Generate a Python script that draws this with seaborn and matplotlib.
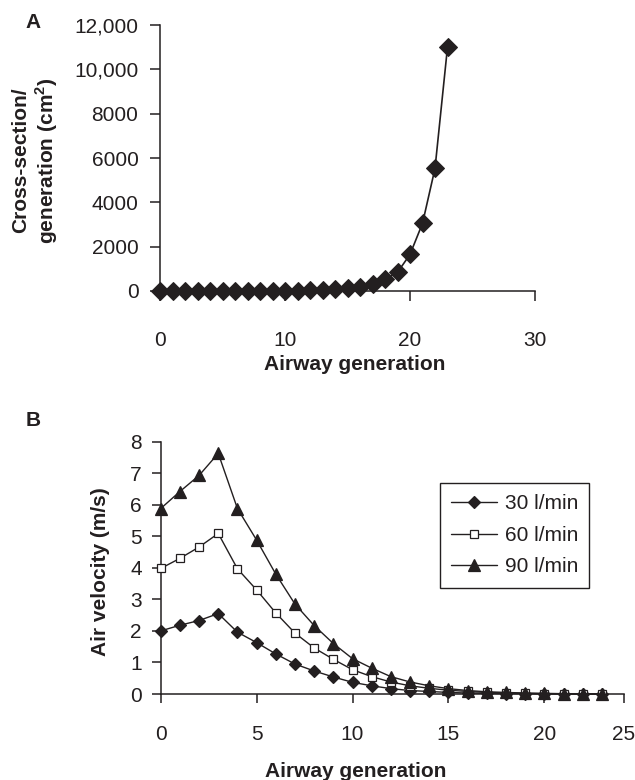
import matplotlib
matplotlib.use('Agg')
import matplotlib.pyplot as plt
import numpy as np
import pandas as pd
import seaborn as sns

# Panel A: cross-section per airway generation (cm2)
gen_a = list(range(24))
cross_section = [2.5, 2.3, 2.1, 2.0, 2.5, 3.1, 4.0, 5.1, 7.0, 9.6, 13, 20, 29, 45,
                 69, 113, 190, 330, 530, 840, 1650, 3050, 5530, 11000]
a_yticks = [0, 2000, 4000, 6000, 8000, 10000, 12000]
a_yticklabels = ['0', '2000', '4000', '6000', '8000', '10,000', '12,000']
a_xticks = [0, 10, 20, 30]

# Panel B: air velocity (m/s) per generation for three flow rates
gen_b = list(range(24))
v30 = [2.0, 2.18, 2.33, 2.55, 1.96, 1.63, 1.27, 0.95, 0.73, 0.54, 0.37, 0.26,
       0.17, 0.11, 0.08, 0.05, 0.03, 0.02, 0.01, 0.01, 0.0, 0.0, 0.0, 0.0]
v60 = [3.98, 4.3, 4.66, 5.09, 3.97, 3.3, 2.57, 1.93, 1.46, 1.1, 0.77, 0.55,
       0.38, 0.26, 0.18, 0.12, 0.08, 0.05, 0.03, 0.02, 0.01, 0.01, 0.0, 0.0]
v90 = [5.88, 6.42, 6.93, 7.63, 5.88, 4.88, 3.8, 2.85, 2.17, 1.6, 1.12, 0.82,
       0.55, 0.38, 0.26, 0.17, 0.11, 0.07, 0.05, 0.03, 0.02, 0.01, 0.01, 0.0]
flow_labels = ['30 l/min', '60 l/min', '90 l/min']
b_yticks = [0, 1, 2, 3, 4, 5, 6, 7, 8]
# the original axis ends a little short of 25 but labels the end "25"
b_xticks = [0, 5, 10, 15, 20, 24.15]
b_xticklabels = ['0', '5', '10', '15', '20', '25']

sns.set_style('ticks')
plt.rcParams['font.family'] = ['Liberation Sans', 'DejaVu Sans']
ink = '#231f20'
plt.rcParams['text.color'] = ink
plt.rcParams['axes.labelcolor'] = ink
plt.rcParams['xtick.color'] = ink
plt.rcParams['ytick.color'] = ink
plt.rcParams['axes.edgecolor'] = ink

W, H = 635, 780
fig = plt.figure(figsize=(W / 100, H / 100), dpi=100)

# ---------- panel A ----------
ax_a = fig.add_axes([160 / W, 1 - 291 / H, 375 / W, 266 / H])
df_a = pd.DataFrame({'gen': gen_a, 'cs': cross_section})
sns.lineplot(data=df_a, x='gen', y='cs', ax=ax_a, color=ink, linewidth=1.2,
             marker='D', markersize=8.7, markerfacecolor=ink, markeredgecolor=ink,
             clip_on=False, zorder=3)
ax_a.set_xlim(0, 30)
ax_a.set_ylim(0, 12000)
ax_a.set_xticks(a_xticks)
ax_a.set_yticks(a_yticks)
ax_a.set_yticklabels(a_yticklabels)
ax_a.tick_params(axis='both', direction='out', length=7, width=1.1, labelsize=15)
ax_a.tick_params(axis='x', pad=21.5)
ax_a.tick_params(axis='y', pad=8.5)
ax_a.set_xlabel('Airway generation', fontsize=15, fontweight='bold')
ax_a.set_ylabel('Cross-section/\ngeneration (cm$^\\mathregular{2}$)', fontsize=15,
                fontweight='bold', linespacing=1.15)
ax_a.xaxis.set_label_coords(0.52, -0.24)
ax_a.yaxis.set_label_coords(-0.267, 0.49)
sns.despine(ax=ax_a)
for s in ['left', 'bottom']:
    ax_a.spines[s].set_linewidth(1.1)

# ---------- panel B ----------
ax_b = fig.add_axes([160.7 / W, 1 - 694 / H, 463.3 / W, 252.3 / H])
df_b = pd.DataFrame({'gen': gen_b, '30': v30, '60': v60, '90': v90})
styles = [
    dict(marker='D', markersize=6, markerfacecolor=ink),
    dict(marker='s', markersize=6, markerfacecolor='white'),
    dict(marker='^', markersize=8, markerfacecolor=ink),
]
for col, lab, st in zip(['30', '60', '90'], flow_labels, styles):
    sns.lineplot(data=df_b, x='gen', y=col, ax=ax_b, color=ink, linewidth=1.0,
                 markeredgecolor=ink, markeredgewidth=0.9, label=lab,
                 clip_on=False, zorder=3, **st)
ax_b.set_xlim(0, b_xticks[-1])
ax_b.set_ylim(0, 8)
ax_b.set_xticks(b_xticks)
ax_b.set_xticklabels(b_xticklabels)
ax_b.set_yticks(b_yticks)
ax_b.tick_params(axis='both', direction='out', length=6.5, width=1.1, labelsize=15)
ax_b.tick_params(axis='x', pad=16)
ax_b.tick_params(axis='y', pad=7)
ax_b.set_xlabel('Airway generation', fontsize=15, fontweight='bold')
ax_b.set_ylabel('Air velocity (m/s)', fontsize=15, fontweight='bold')
ax_b.xaxis.set_label_coords(0.421, -0.268)
ax_b.yaxis.set_label_coords(-0.109, 0.484)
sns.despine(ax=ax_b)
for s in ['left', 'bottom']:
    ax_b.spines[s].set_linewidth(1.1)

leg = ax_b.legend(loc='upper left', bbox_to_anchor=(440 / W, 1 - 483 / H),
                  bbox_transform=fig.transFigure, frameon=True, fancybox=False,
                  edgecolor=ink, borderaxespad=0, handlelength=2.2,
                  handletextpad=0.35, labelspacing=0.6, borderpad=0.55,
                  fontsize=15, framealpha=1)
leg.get_frame().set_linewidth(1.0)

# panel letters
fig.text(33 / W, 1 - 23 / H, 'A', fontsize=15, fontweight='bold', ha='center', va='center')
fig.text(33 / W, 1 - 421 / H, 'B', fontsize=15, fontweight='bold', ha='center', va='center')

fig.savefig('out.png', dpi=100)
